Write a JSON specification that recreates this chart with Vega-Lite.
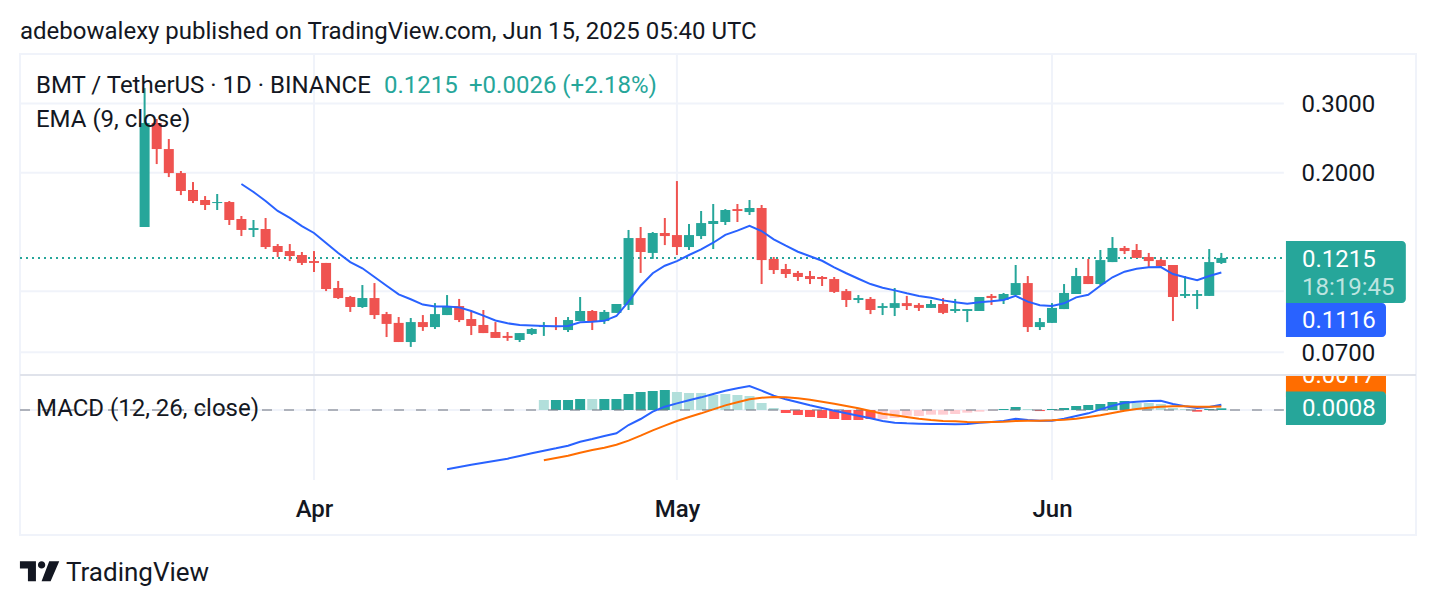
{
  "$schema": "https://vega.github.io/schema/vega-lite/v6.json",
  "background": "white",
  "padding": {"left": 18, "right": 20, "top": 20, "bottom": 0},
  "title": {"text": "adebowalexy published on TradingView.com, Jun 15, 2025 05:40 UTC", "anchor": "start", "frame": "bounds", "font": "Roboto", "fontSize": 24, "fontWeight": 400, "color": "#131722", "offset": 8, "dx": 2},
  "datasets": {
    "one": [{"row": 1}],
    "candles": [
      {"date":"2025-03-18","open":0.1456,"high":0.3282,"low":0.1456,"close":0.2675},
      {"date":"2025-03-19","open":0.2675,"high":0.2738,"low":0.2104,"close":0.2297},
      {"date":"2025-03-20","open":0.2297,"high":0.2436,"low":0.1950,"close":0.1996},
      {"date":"2025-03-21","open":0.1996,"high":0.2020,"low":0.1755,"close":0.1797},
      {"date":"2025-03-22","open":0.1808,"high":0.1894,"low":0.1675,"close":0.1695},
      {"date":"2025-03-23","open":0.1705,"high":0.1745,"low":0.1608,"close":0.1656},
      {"date":"2025-03-24","open":0.1675,"high":0.1766,"low":0.1608,"close":0.1685},
      {"date":"2025-03-25","open":0.1685,"high":0.1695,"low":0.1473,"close":0.1517},
      {"date":"2025-03-26","open":0.1526,"high":0.1553,"low":0.1381,"close":0.1431,"ema":0.1872},
      {"date":"2025-03-27","open":0.1431,"high":0.1517,"low":0.1373,"close":0.1447,"ema":0.1787},
      {"date":"2025-03-28","open":0.1439,"high":0.1535,"low":0.1280,"close":0.1295,"ema":0.1695},
      {"date":"2025-03-29","open":0.1303,"high":0.1318,"low":0.1222,"close":0.1258,"ema":0.1599},
      {"date":"2025-03-30","open":0.1265,"high":0.1318,"low":0.1193,"close":0.1229,"ema":0.1535},
      {"date":"2025-03-31","open":0.1236,"high":0.1258,"low":0.1166,"close":0.1180,"ema":0.1464},
      {"date":"2025-04-01","open":0.1193,"high":0.1265,"low":0.1119,"close":0.1180,"ema":0.1406},
      {"date":"2025-04-02","open":0.1180,"high":0.1180,"low":0.1001,"close":0.1013,"ema":0.1326},
      {"date":"2025-04-03","open":0.1019,"high":0.1062,"low":0.0956,"close":0.0961,"ema":0.1251},
      {"date":"2025-04-04","open":0.0967,"high":0.0973,"low":0.0886,"close":0.0912,"ema":0.1186},
      {"date":"2025-04-05","open":0.0912,"high":0.1037,"low":0.0907,"close":0.0961,"ema":0.1144},
      {"date":"2025-04-06","open":0.0961,"high":0.1049,"low":0.0850,"close":0.0870,"ema":0.1087},
      {"date":"2025-04-07","open":0.0875,"high":0.0886,"low":0.0765,"close":0.0826,"ema":0.1033},
      {"date":"2025-04-08","open":0.0831,"high":0.0860,"low":0.0743,"close":0.0743,"ema":0.0982},
      {"date":"2025-04-09","open":0.0743,"high":0.0855,"low":0.0722,"close":0.0835,"ema":0.0954},
      {"date":"2025-04-10","open":0.0835,"high":0.0870,"low":0.0793,"close":0.0811,"ema":0.0925},
      {"date":"2025-04-11","open":0.0811,"high":0.0933,"low":0.0802,"close":0.0875,"ema":0.0915},
      {"date":"2025-04-12","open":0.0870,"high":0.0978,"low":0.0870,"close":0.0917,"ema":0.0915},
      {"date":"2025-04-13","open":0.0917,"high":0.0956,"low":0.0835,"close":0.0845,"ema":0.0910},
      {"date":"2025-04-14","open":0.0850,"high":0.0891,"low":0.0774,"close":0.0816,"ema":0.0891},
      {"date":"2025-04-15","open":0.0821,"high":0.0896,"low":0.0783,"close":0.0783,"ema":0.0867},
      {"date":"2025-04-16","open":0.0788,"high":0.0835,"low":0.0761,"close":0.0761,"ema":0.0843},
      {"date":"2025-04-17","open":0.0770,"high":0.0788,"low":0.0748,"close":0.0761,"ema":0.0829},
      {"date":"2025-04-18","open":0.0752,"high":0.0783,"low":0.0743,"close":0.0783,"ema":0.0821},
      {"date":"2025-04-19","open":0.0779,"high":0.0806,"low":0.0774,"close":0.0802,"ema":0.0818},
      {"date":"2025-04-20","open":0.0811,"high":0.0835,"low":0.0770,"close":0.0816,"ema":0.0816},
      {"date":"2025-04-21","open":0.0816,"high":0.0860,"low":0.0797,"close":0.0811,"ema":0.0815},
      {"date":"2025-04-22","open":0.0797,"high":0.0860,"low":0.0788,"close":0.0845,"ema":0.0816},
      {"date":"2025-04-23","open":0.0840,"high":0.0967,"low":0.0840,"close":0.0891,"ema":0.0834},
      {"date":"2025-04-24","open":0.0891,"high":0.0896,"low":0.0797,"close":0.0840,"ema":0.0836},
      {"date":"2025-04-25","open":0.0840,"high":0.0896,"low":0.0826,"close":0.0886,"ema":0.0841},
      {"date":"2025-04-26","open":0.0881,"high":0.0928,"low":0.0881,"close":0.0928,"ema":0.0865},
      {"date":"2025-04-27","open":0.0923,"high":0.1431,"low":0.0896,"close":0.1365,"ema":0.0941},
      {"date":"2025-04-28","open":0.1365,"high":0.1456,"low":0.1113,"close":0.1258,"ema":0.1033},
      {"date":"2025-04-29","open":0.1251,"high":0.1414,"low":0.1208,"close":0.1406,"ema":0.1111},
      {"date":"2025-04-30","open":0.1406,"high":0.1535,"low":0.1310,"close":0.1381,"ema":0.1161},
      {"date":"2025-05-01","open":0.1389,"high":0.1905,"low":0.1236,"close":0.1295,"ema":0.1193},
      {"date":"2025-05-02","open":0.1295,"high":0.1482,"low":0.1273,"close":0.1389,"ema":0.1236},
      {"date":"2025-05-03","open":0.1381,"high":0.1599,"low":0.1357,"close":0.1490,"ema":0.1278},
      {"date":"2025-05-04","open":0.1482,"high":0.1666,"low":0.1280,"close":0.1508,"ema":0.1328},
      {"date":"2025-05-05","open":0.1499,"high":0.1617,"low":0.1473,"close":0.1608,"ema":0.1391},
      {"date":"2025-05-06","open":0.1617,"high":0.1666,"low":0.1499,"close":0.1599,"ema":0.1425},
      {"date":"2025-05-07","open":0.1589,"high":0.1705,"low":0.1562,"close":0.1627,"ema":0.1467},
      {"date":"2025-05-08","open":0.1627,"high":0.1656,"low":0.1043,"close":0.1200,"ema":0.1422},
      {"date":"2025-05-09","open":0.1208,"high":0.1222,"low":0.1106,"close":0.1132,"ema":0.1355},
      {"date":"2025-05-10","open":0.1139,"high":0.1173,"low":0.1081,"close":0.1106,"ema":0.1305},
      {"date":"2025-05-11","open":0.1113,"high":0.1126,"low":0.1062,"close":0.1087,"ema":0.1260},
      {"date":"2025-05-12","open":0.1093,"high":0.1126,"low":0.1043,"close":0.1074,"ema":0.1227},
      {"date":"2025-05-13","open":0.1087,"high":0.1093,"low":0.1031,"close":0.1074,"ema":0.1195},
      {"date":"2025-05-14","open":0.1074,"high":0.1087,"low":0.0990,"close":0.0996,"ema":0.1150},
      {"date":"2025-05-15","open":0.1001,"high":0.1013,"low":0.0912,"close":0.0950,"ema":0.1111},
      {"date":"2025-05-16","open":0.0950,"high":0.0978,"low":0.0933,"close":0.0961,"ema":0.1076},
      {"date":"2025-05-17","open":0.0956,"high":0.0967,"low":0.0875,"close":0.0896,"ema":0.1043},
      {"date":"2025-05-18","open":0.0907,"high":0.0933,"low":0.0870,"close":0.0917,"ema":0.1021},
      {"date":"2025-05-19","open":0.0907,"high":0.1019,"low":0.0865,"close":0.0933,"ema":0.1005},
      {"date":"2025-05-20","open":0.0933,"high":0.0973,"low":0.0896,"close":0.0917,"ema":0.0988},
      {"date":"2025-05-21","open":0.0923,"high":0.0933,"low":0.0891,"close":0.0907,"ema":0.0973},
      {"date":"2025-05-22","open":0.0907,"high":0.0950,"low":0.0907,"close":0.0928,"ema":0.0963},
      {"date":"2025-05-23","open":0.0928,"high":0.0961,"low":0.0875,"close":0.0881,"ema":0.0948},
      {"date":"2025-05-24","open":0.0891,"high":0.0956,"low":0.0881,"close":0.0901,"ema":0.0938},
      {"date":"2025-05-25","open":0.0891,"high":0.0901,"low":0.0835,"close":0.0901,"ema":0.0929},
      {"date":"2025-05-26","open":0.0891,"high":0.0967,"low":0.0891,"close":0.0967,"ema":0.0938},
      {"date":"2025-05-27","open":0.0973,"high":0.0984,"low":0.0923,"close":0.0961,"ema":0.0943},
      {"date":"2025-05-28","open":0.0950,"high":0.0990,"low":0.0928,"close":0.0984,"ema":0.0950},
      {"date":"2025-05-29","open":0.0978,"high":0.1166,"low":0.0978,"close":0.1049,"ema":0.0973},
      {"date":"2025-05-30","open":0.1049,"high":0.1093,"low":0.0788,"close":0.0811,"ema":0.0941},
      {"date":"2025-05-31","open":0.0811,"high":0.0855,"low":0.0797,"close":0.0835,"ema":0.0921},
      {"date":"2025-06-01","open":0.0831,"high":0.0933,"low":0.0831,"close":0.0907,"ema":0.0917},
      {"date":"2025-06-02","open":0.0901,"high":0.1043,"low":0.0901,"close":0.0990,"ema":0.0932},
      {"date":"2025-06-03","open":0.0984,"high":0.1146,"low":0.0984,"close":0.1093,"ema":0.0965},
      {"date":"2025-06-04","open":0.1093,"high":0.1208,"low":0.1043,"close":0.1043,"ema":0.0980},
      {"date":"2025-06-05","open":0.1043,"high":0.1273,"low":0.1037,"close":0.1200,"ema":0.1033},
      {"date":"2025-06-06","open":0.1186,"high":0.1373,"low":0.1186,"close":0.1288,"ema":0.1085},
      {"date":"2025-06-07","open":0.1288,"high":0.1303,"low":0.1243,"close":0.1265,"ema":0.1121},
      {"date":"2025-06-08","open":0.1273,"high":0.1318,"low":0.1215,"close":0.1215,"ema":0.1141},
      {"date":"2025-06-09","open":0.1222,"high":0.1251,"low":0.1152,"close":0.1193,"ema":0.1150},
      {"date":"2025-06-10","open":0.1200,"high":0.1208,"low":0.1152,"close":0.1159,"ema":0.1152},
      {"date":"2025-06-11","open":0.1166,"high":0.1166,"low":0.0840,"close":0.0967,"ema":0.1106},
      {"date":"2025-06-12","open":0.0973,"high":0.1093,"low":0.0961,"close":0.0984,"ema":0.1085},
      {"date":"2025-06-13","open":0.0973,"high":0.1007,"low":0.0901,"close":0.0984,"ema":0.1066},
      {"date":"2025-06-14","open":0.0973,"high":0.1280,"low":0.0973,"close":0.1186,"ema":0.1093},
      {"date":"2025-06-15","open":0.1180,"high":0.1251,"low":0.1173,"close":0.1215,"ema":0.1116}
    ],
    "macd": [
      {"date":"2025-04-12","macd":-0.02799},
      {"date":"2025-04-13","macd":-0.02689},
      {"date":"2025-04-14","macd":-0.02579},
      {"date":"2025-04-15","macd":-0.02484},
      {"date":"2025-04-16","macd":-0.02390},
      {"date":"2025-04-17","macd":-0.02296},
      {"date":"2025-04-18","macd":-0.02170},
      {"date":"2025-04-19","macd":-0.02044},
      {"date":"2025-04-20","macd":-0.01918,"signal":-0.02374,"hist":0.00472,"tone":"up fading"},
      {"date":"2025-04-21","macd":-0.01808,"signal":-0.02264,"hist":0.00472,"tone":"up rising"},
      {"date":"2025-04-22","macd":-0.01682,"signal":-0.02154,"hist":0.00472,"tone":"up rising"},
      {"date":"2025-04-23","macd":-0.01494,"signal":-0.02013,"hist":0.00519,"tone":"up rising"},
      {"date":"2025-04-24","macd":-0.01368,"signal":-0.01887,"hist":0.00519,"tone":"up fading"},
      {"date":"2025-04-25","macd":-0.01226,"signal":-0.01777,"hist":0.00519,"tone":"up rising"},
      {"date":"2025-04-26","macd":-0.01101,"signal":-0.01635,"hist":0.00519,"tone":"up rising"},
      {"date":"2025-04-27","macd":-0.00708,"signal":-0.01447,"hist":0.00755,"tone":"up rising"},
      {"date":"2025-04-28","macd":-0.00425,"signal":-0.01211,"hist":0.00849,"tone":"up rising"},
      {"date":"2025-04-29","macd":-0.00079,"signal":-0.00959,"hist":0.00896,"tone":"up rising"},
      {"date":"2025-04-30","macd":0.00157,"signal":-0.00739,"hist":0.00943,"tone":"up rising"},
      {"date":"2025-05-01","macd":0.00314,"signal":-0.00519,"hist":0.00849,"tone":"up fading"},
      {"date":"2025-05-02","macd":0.00456,"signal":-0.00330,"hist":0.00802,"tone":"up fading"},
      {"date":"2025-05-03","macd":0.00597,"signal":-0.00157,"hist":0.00802,"tone":"up fading"},
      {"date":"2025-05-04","macd":0.00755,"signal":0.00031,"hist":0.00708,"tone":"up fading"},
      {"date":"2025-05-05","macd":0.00912,"signal":0.00220,"hist":0.00755,"tone":"up fading"},
      {"date":"2025-05-06","macd":0.01022,"signal":0.00362,"hist":0.00708,"tone":"up fading"},
      {"date":"2025-05-07","macd":0.01132,"signal":0.00503,"hist":0.00660,"tone":"up fading"},
      {"date":"2025-05-08","macd":0.00912,"signal":0.00582,"hist":0.00330,"tone":"up fading"},
      {"date":"2025-05-09","macd":0.00676,"signal":0.00613,"hist":0.00094,"tone":"up fading"},
      {"date":"2025-05-10","macd":0.00503,"signal":0.00597,"hist":-0.00142,"tone":"down falling"},
      {"date":"2025-05-11","macd":0.00362,"signal":0.00550,"hist":-0.00236,"tone":"down falling"},
      {"date":"2025-05-12","macd":0.00220,"signal":0.00487,"hist":-0.00330,"tone":"down falling"},
      {"date":"2025-05-13","macd":0.00094,"signal":0.00393,"hist":-0.00377,"tone":"down falling"},
      {"date":"2025-05-14","macd":-0.00031,"signal":0.00299,"hist":-0.00425,"tone":"down falling"},
      {"date":"2025-05-15","macd":-0.00157,"signal":0.00189,"hist":-0.00472,"tone":"down falling"},
      {"date":"2025-05-16","macd":-0.00267,"signal":0.00079,"hist":-0.00472,"tone":"down falling"},
      {"date":"2025-05-17","macd":-0.00393,"signal":-0.00047,"hist":-0.00425,"tone":"down falling"},
      {"date":"2025-05-18","macd":-0.00519,"signal":-0.00173,"hist":-0.00425,"tone":"down fading"},
      {"date":"2025-05-19","macd":-0.00597,"signal":-0.00252,"hist":-0.00377,"tone":"down fading"},
      {"date":"2025-05-20","macd":-0.00629,"signal":-0.00330,"hist":-0.00267,"tone":"down fading"},
      {"date":"2025-05-21","macd":-0.00645,"signal":-0.00409,"hist":-0.00283,"tone":"down fading"},
      {"date":"2025-05-22","macd":-0.00660,"signal":-0.00472,"hist":-0.00220,"tone":"down fading"},
      {"date":"2025-05-23","macd":-0.00660,"signal":-0.00519,"hist":-0.00220,"tone":"down fading"},
      {"date":"2025-05-24","macd":-0.00676,"signal":-0.00535,"hist":-0.00189,"tone":"down fading"},
      {"date":"2025-05-25","macd":-0.00660,"signal":-0.00566,"hist":-0.00126,"tone":"down fading"},
      {"date":"2025-05-26","macd":-0.00597,"signal":-0.00582,"hist":-0.00079,"tone":"down fading"},
      {"date":"2025-05-27","macd":-0.00566,"signal":-0.00566,"hist":-0.00016,"tone":"down fading"},
      {"date":"2025-05-28","macd":-0.00519,"signal":-0.00550,"hist":0.00047,"tone":"up rising"},
      {"date":"2025-05-29","macd":-0.00409,"signal":-0.00519,"hist":0.00142,"tone":"up rising"},
      {"date":"2025-05-30","macd":-0.00472,"signal":-0.00503,"hist":0.00047,"tone":"up fading"},
      {"date":"2025-05-31","macd":-0.00503,"signal":-0.00503,"hist":-0.00050,"tone":"down falling"},
      {"date":"2025-06-01","macd":-0.00503,"signal":-0.00487,"hist":0.00047,"tone":"up rising"},
      {"date":"2025-06-02","macd":-0.00409,"signal":-0.00456,"hist":0.00094,"tone":"up rising"},
      {"date":"2025-06-03","macd":-0.00283,"signal":-0.00409,"hist":0.00189,"tone":"up rising"},
      {"date":"2025-06-04","macd":-0.00157,"signal":-0.00330,"hist":0.00236,"tone":"up rising"},
      {"date":"2025-06-05","macd":0.00031,"signal":-0.00252,"hist":0.00283,"tone":"up rising"},
      {"date":"2025-06-06","macd":0.00204,"signal":-0.00142,"hist":0.00377,"tone":"up rising"},
      {"date":"2025-06-07","macd":0.00346,"signal":-0.00031,"hist":0.00425,"tone":"up rising"},
      {"date":"2025-06-08","macd":0.00393,"signal":0.00047,"hist":0.00330,"tone":"up fading"},
      {"date":"2025-06-09","macd":0.00425,"signal":0.00110,"hist":0.00330,"tone":"up fading"},
      {"date":"2025-06-10","macd":0.00440,"signal":0.00157,"hist":0.00283,"tone":"up fading"},
      {"date":"2025-06-11","macd":0.00283,"signal":0.00173,"hist":0.00094,"tone":"up fading"},
      {"date":"2025-06-12","macd":0.00173,"signal":0.00173,"hist":0.00047,"tone":"up fading"},
      {"date":"2025-06-13","macd":0.00094,"signal":0.00157,"hist":-0.00080,"tone":"down falling"},
      {"date":"2025-06-14","macd":0.00142,"signal":0.00157,"hist":0.00050,"tone":"up rising"},
      {"date":"2025-06-15","macd":0.00252,"signal":0.00170,"hist":0.00080,"tone":"up rising"}
    ],
    "priceGrid": [{"price":0.3},{"price":0.2},{"price":0.1},{"price":0.07}],
    "months": [{"date":"2025-04-01"},{"date":"2025-05-01"},{"date":"2025-06-01"}]
  },
  "config": {
    "font": "Roboto",
    "view": {"stroke": "#f0f3fa", "strokeWidth": 2},
    "text": {"font": "Roboto", "fontSize": 24, "align": "left", "baseline": "middle", "color": "#131722"}
  },
  "spacing": 0,
  "bounds": "flush",
  "vconcat": [
    {
      "width": 1396,
      "height": 321,
      "layer": [
        {
          "data": {"name": "months"},
          "mark": {"type": "rule", "color": "#f0f3fa", "strokeWidth": 2},
          "encoding": {
            "x": {"field": "date", "type": "temporal", "axis": null, "title": null, "scale": {"type": "utc", "domain": [{"year":2025,"month":"mar","date":7,"hours":16,"minutes":48,"utc":true}, {"year":2025,"month":"jul","date":1,"hours":2,"minutes":10,"utc":true}], "nice": false, "padding": 0}}
          }
        },
        {
          "data": {"name": "priceGrid"},
          "mark": {"type": "rule", "color": "#f0f3fa", "strokeWidth": 2},
          "encoding": {
            "y": {"field": "price", "type": "quantitative", "title": null, "scale": {"type": "log", "domain": [0.06127, 0.4005], "nice": false, "zero": false},
              "axis": {"orient": "right", "values": [0.07, 0.2, 0.3], "format": ".4f", "grid": false, "ticks": false, "domain": false, "labelPadding": -115, "labelOffset": 1, "labelAlign": "left", "labelFontSize": 24, "labelColor": "#131722", "labelFont": "Roboto"}},
            "x": {"datum": {"year":2025,"month":"mar","date":7,"hours":16,"minutes":48,"utc":true}, "type": "temporal"},
            "x2": {"datum": {"year":2025,"month":"jun","date":20,"hours":4,"utc":true}}
          }
        },
        {
          "data": {"name": "one"},
          "mark": {"type": "rule", "color": "#26a69a", "strokeWidth": 2, "strokeDash": [2, 4]},
          "encoding": {
            "y": {"datum": 0.1215},
            "x": {"datum": {"year":2025,"month":"mar","date":7,"hours":16,"minutes":48,"utc":true}, "type": "temporal"},
            "x2": {"datum": {"year":2025,"month":"jun","date":20,"hours":8,"utc":true}}
          }
        },
        {
          "data": {"name": "candles"},
          "mark": {"type": "rule", "strokeWidth": 2},
          "encoding": {
            "x": {"field": "date", "type": "temporal"},
            "y": {"field": "low", "type": "quantitative"},
            "y2": {"field": "high"},
            "color": {"condition": {"test": "datum.close >= datum.open", "value": "#26a69a"}, "value": "#ef5350"}
          }
        },
        {
          "data": {"name": "candles"},
          "mark": {"type": "bar", "size": 10},
          "encoding": {
            "x": {"field": "date", "type": "temporal"},
            "y": {"field": "open", "type": "quantitative"},
            "y2": {"field": "close"},
            "color": {"condition": {"test": "datum.close >= datum.open", "value": "#26a69a"}, "value": "#ef5350"}
          }
        },
        {
          "data": {"name": "candles"},
          "mark": {"type": "line", "color": "#2962ff", "strokeWidth": 2},
          "encoding": {
            "x": {"field": "date", "type": "temporal"},
            "y": {"field": "ema", "type": "quantitative"}
          }
        },
        {
          "data": {"name": "one"},
          "mark": {"type": "text"},
          "encoding": {"x": {"datum": {"year":2025,"month":"mar","date":9,"minutes":30,"utc":true}, "type": "temporal"}, "y": {"datum": 0.332}, "text": {"value": "BMT / TetherUS · 1D · BINANCE"}}
        },
        {
          "data": {"name": "one"},
          "mark": {"type": "text", "color": "#26a69a"},
          "encoding": {"x": {"datum": {"year":2025,"month":"apr","date":6,"hours":18,"minutes":52,"utc":true}, "type": "temporal"}, "y": {"datum": 0.332}, "text": {"value": "0.1215"}}
        },
        {
          "data": {"name": "one"},
          "mark": {"type": "text", "color": "#26a69a"},
          "encoding": {"x": {"datum": {"year":2025,"month":"apr","date":13,"hours":19,"minutes":30,"utc":true}, "type": "temporal"}, "y": {"datum": 0.332}, "text": {"value": "+0.0026 (+2.18%)"}}
        },
        {
          "data": {"name": "one"},
          "mark": {"type": "text"},
          "encoding": {"x": {"datum": {"year":2025,"month":"mar","date":9,"minutes":30,"utc":true}, "type": "temporal"}, "y": {"datum": 0.272}, "text": {"value": "EMA (9, close)"}}
        },
        {
          "data": {"name": "one"},
          "mark": {"type": "rect", "color": "#26a69a", "cornerRadiusTopRight": 4, "cornerRadiusBottomRight": 4},
          "encoding": {
            "x": {"datum": {"year":2025,"month":"jun","date":20,"hours":8,"minutes":10,"utc":true}, "type": "temporal"}, "x2": {"datum": {"year":2025,"month":"jun","date":30,"hours":6,"utc":true}},
            "y": {"datum": 0.1341}, "y2": {"datum": 0.0933}
          }
        },
        {
          "data": {"name": "one"},
          "mark": {"type": "rect", "color": "#2962ff", "cornerRadiusTopRight": 4, "cornerRadiusBottomRight": 4},
          "encoding": {
            "x": {"datum": {"year":2025,"month":"jun","date":20,"hours":8,"minutes":10,"utc":true}, "type": "temporal"}, "x2": {"datum": {"year":2025,"month":"jun","date":28,"hours":14,"minutes":38,"utc":true}},
            "y": {"datum": 0.0933}, "y2": {"datum": 0.0765}
          }
        },
        {
          "data": {"name": "one"},
          "mark": {"type": "text", "color": "white"},
          "encoding": {"x": {"datum": {"year":2025,"month":"jun","date":21,"hours":16,"utc":true}, "type": "temporal"}, "y": {"datum": 0.12}, "text": {"value": "0.1215"}}
        },
        {
          "data": {"name": "one"},
          "mark": {"type": "text", "color": "#bde4e0"},
          "encoding": {"x": {"datum": {"year":2025,"month":"jun","date":21,"hours":16,"utc":true}, "type": "temporal"}, "y": {"datum": 0.1019}, "text": {"value": "18:19:45"}}
        },
        {
          "data": {"name": "one"},
          "mark": {"type": "text", "color": "white"},
          "encoding": {"x": {"datum": {"year":2025,"month":"jun","date":21,"hours":16,"utc":true}, "type": "temporal"}, "y": {"datum": 0.084}, "text": {"value": "0.1116"}}
        }
      ]
    },
    {
      "width": 1396,
      "height": 160,
      "layer": [
        {
          "data": {"name": "months"},
          "mark": {"type": "rule", "color": "#f0f3fa", "strokeWidth": 2},
          "encoding": {
            "x": {"field": "date", "type": "temporal", "title": null, "scale": {"type": "utc", "domain": [{"year":2025,"month":"mar","date":7,"hours":16,"minutes":48,"utc":true}, {"year":2025,"month":"jul","date":1,"hours":2,"minutes":10,"utc":true}], "nice": false, "padding": 0},
              "axis": {"orient": "bottom", "values": [{"year":2025,"month":"apr","date":1,"utc":true}, {"year":2025,"month":"may","date":1,"utc":true}, {"year":2025,"month":"jun","date":1,"utc":true}], "format": "%b", "grid": false, "ticks": false, "domain": false, "labelPadding": -38, "labelFontSize": 24, "labelFontWeight": 500, "labelColor": "#131722", "labelFont": "Roboto", "labelFlush": false}},
            "y": {"datum": 0.01651, "type": "quantitative", "title": null, "axis": null, "scale": {"domain": [-0.05896, 0.01651], "nice": false, "zero": false}},
            "y2": {"datum": -0.033}
          }
        },
        {
          "data": {"name": "one"},
          "mark": {"type": "rule", "color": "#f0f3fa", "strokeWidth": 2},
          "encoding": {
            "y": {"datum": 0},
            "x": {"datum": {"year":2025,"month":"mar","date":7,"hours":16,"minutes":48,"utc":true}, "type": "temporal"},
            "x2": {"datum": {"year":2025,"month":"jun","date":20,"hours":4,"utc":true}}
          }
        },
        {
          "data": {"name": "macd"},
          "transform": [{"filter": "isValid(datum.hist)"}],
          "mark": {"type": "bar", "size": 10},
          "encoding": {
            "x": {"field": "date", "type": "temporal"},
            "y": {"field": "hist", "type": "quantitative", "stack": null},
            "fill": {"field": "tone", "type": "nominal", "legend": null, "scale": {"domain": ["up rising", "up fading", "down falling", "down fading"], "range": ["#26a69a", "#b2dfdb", "#ff5252", "#ffcdd2"]}}
          }
        },
        {
          "data": {"name": "one"},
          "mark": {"type": "rule", "color": "#787b86", "opacity": 0.55, "strokeWidth": 2, "strokeDash": [10, 12]},
          "encoding": {
            "y": {"datum": 0},
            "x": {"datum": {"year":2025,"month":"mar","date":7,"hours":16,"minutes":48,"utc":true}, "type": "temporal"},
            "x2": {"datum": {"year":2025,"month":"jun","date":20,"hours":4,"utc":true}}
          }
        },
        {
          "data": {"name": "macd"},
          "mark": {"type": "line", "color": "#2962ff", "strokeWidth": 2},
          "encoding": {
            "x": {"field": "date", "type": "temporal"},
            "y": {"field": "macd", "type": "quantitative"}
          }
        },
        {
          "data": {"name": "macd"},
          "mark": {"type": "line", "color": "#ff6d00", "strokeWidth": 2},
          "encoding": {
            "x": {"field": "date", "type": "temporal"},
            "y": {"field": "signal", "type": "quantitative"}
          }
        },
        {
          "data": {"name": "one"},
          "mark": {"type": "text"},
          "encoding": {"x": {"datum": {"year":2025,"month":"mar","date":9,"minutes":30,"utc":true}, "type": "temporal"}, "y": {"datum": 0.0005}, "text": {"value": "MACD (12, 26, close)"}}
        },
        {
          "data": {"name": "one"},
          "mark": {"type": "rect", "color": "#ff6d00", "clip": true, "cornerRadiusBottomRight": 4},
          "encoding": {
            "x": {"datum": {"year":2025,"month":"jun","date":20,"hours":8,"minutes":10,"utc":true}, "type": "temporal"}, "x2": {"datum": {"year":2025,"month":"jun","date":28,"hours":14,"minutes":38,"utc":true}},
            "y": {"datum": 0.01651}, "y2": {"datum": 0.00613}
          }
        },
        {
          "data": {"name": "one"},
          "mark": {"type": "text", "color": "white", "clip": true},
          "encoding": {"x": {"datum": {"year":2025,"month":"jun","date":21,"hours":16,"utc":true}, "type": "temporal"}, "y": {"datum": 0.01604}, "text": {"value": "0.0017"}}
        },
        {
          "data": {"name": "one"},
          "mark": {"type": "rect", "color": "#26a69a", "cornerRadiusTopRight": 4, "cornerRadiusBottomRight": 4},
          "encoding": {
            "x": {"datum": {"year":2025,"month":"jun","date":20,"hours":8,"minutes":10,"utc":true}, "type": "temporal"}, "x2": {"datum": {"year":2025,"month":"jun","date":28,"hours":14,"minutes":38,"utc":true}},
            "y": {"datum": 0.00877}, "y2": {"datum": -0.00708}
          }
        },
        {
          "data": {"name": "one"},
          "mark": {"type": "text", "color": "white"},
          "encoding": {"x": {"datum": {"year":2025,"month":"jun","date":21,"hours":16,"utc":true}, "type": "temporal"}, "y": {"datum": 0.00047}, "text": {"value": "0.0008"}}
        },
        {
          "data": {"name": "one"},
          "mark": {"type": "rule", "color": "#e0e3eb", "strokeWidth": 2},
          "encoding": {"y": {"datum": 0.01651}}
        }
      ]
    },
    {
      "width": 1396,
      "height": 71,
      "view": {"stroke": null},
      "layer": [
        {
          "data": {"name": "one"},
          "mark": {"type": "point", "filled": true, "opacity": 1, "color": "#131722", "size": 1547, "shape": "M-1 -.508 L-.186 -.508 L-.186 .508 L-.593 .508 L-.593 -.136 L-1 -.136 Z M-.084 -.322 A.186 .186 0 1 0 .288 -.322 A.186 .186 0 1 0 -.084 -.322 Z M.49 -.508 L1 -.508 L.56 .508 L.10 .508 Z"},
          "encoding": {
            "x": {"datum": {"year":2025,"month":"mar","date":9,"hours":7,"minutes":40,"utc":true}, "type": "temporal", "axis": null, "title": null, "scale": {"type": "utc", "domain": [{"year":2025,"month":"mar","date":7,"hours":16,"minutes":48,"utc":true}, {"year":2025,"month":"jul","date":1,"hours":2,"minutes":10,"utc":true}], "nice": false, "padding": 0}},
            "y": {"datum": 0.49, "type": "quantitative", "axis": null, "title": null, "scale": {"domain": [0, 1], "nice": false}}
          }
        },
        {
          "data": {"name": "one"},
          "mark": {"type": "text", "fontSize": 26},
          "encoding": {
            "x": {"datum": {"year":2025,"month":"mar","date":11,"hours":12,"utc":true}, "type": "temporal"},
            "y": {"datum": 0.46},
            "text": {"value": "TradingView"}
          }
        }
      ]
    }
  ]
}
